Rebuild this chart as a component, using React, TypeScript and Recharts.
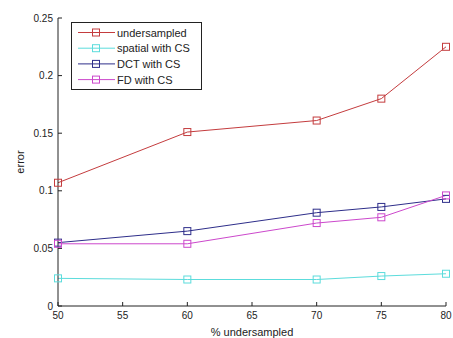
import { LineChart, Line, XAxis, YAxis, Legend, Label } from "recharts";

const xValues = [50, 60, 70, 75, 80];
const undersampled = [0.107, 0.151, 0.161, 0.18, 0.225];
const spatialCS = [0.024, 0.023, 0.023, 0.026, 0.028];
const dctCS = [0.055, 0.065, 0.081, 0.086, 0.093];
const fdCS = [0.054, 0.054, 0.072, 0.077, 0.096];

const xTicks = [50, 55, 60, 65, 70, 75, 80];
const yTicks = [0, 0.05, 0.1, 0.15, 0.2, 0.25];

const SERIES = [
  { key: "undersampled", label: "undersampled", color: "#c43c3e", values: undersampled },
  { key: "spatial", label: "spatial with CS", color: "#5cdcdc", values: spatialCS },
  { key: "dct", label: "DCT with CS", color: "#2e2e8a", values: dctCS },
  { key: "fd", label: "FD with CS", color: "#cc48cc", values: fdCS },
];

const data = xValues.map((x, i) => {
  const row: Record<string, number> = { x };
  SERIES.forEach((s) => {
    row[s.key] = s.values[i];
  });
  return row;
});

const FONT = "'Liberation Sans', Arial, sans-serif";
const TICK = { fontSize: 10, fill: "#222", fontFamily: FONT };

function squareDot(color: string) {
  return (p: any) => (
    <rect
      key={`${color}-${p.index}`}
      x={p.cx - 3.5}
      y={p.cy - 3.5}
      width={7}
      height={7}
      fill="none"
      stroke={color}
      strokeWidth={1}
    />
  );
}

function LegendBox() {
  return (
    <svg width={131} height={68} style={{ display: "block" }}>
      <rect x={0.5} y={0.5} width={130} height={67} fill="#fff" stroke="#222" />
      {SERIES.map((s, i) => {
        const y = 10.5 + i * 15.7;
        return (
          <g key={s.key}>
            <line x1={7} x2={44} y1={y} y2={y} stroke={s.color} />
            <rect x={21.5} y={y - 3.5} width={7} height={7} fill="none" stroke={s.color} />
            <text x={46} y={y + 4} fontSize={11} fontFamily={FONT} fill="#222">
              {s.label}
            </text>
          </g>
        );
      })}
    </svg>
  );
}

export default function App() {
  return (
    <div style={{ position: "absolute", left: 0, top: 0, background: "#fff" }}>
      <LineChart width={453} height={338} data={data} margin={{ top: 18, right: 7, bottom: 0, left: 0 }}>
        <XAxis
          dataKey="x"
          type="number"
          domain={[50, 80]}
          ticks={xTicks}
          tick={TICK}
          tickSize={-4}
          tickMargin={10}
          height={32}
          stroke="#222"
          tickLine={{ stroke: "#222" }}
        >
          <Label
            value="% undersampled"
            position="insideBottom"
            offset={2}
            style={{ fontSize: 11, fill: "#222", fontFamily: FONT }}
          />
        </XAxis>
        <YAxis
          type="number"
          domain={[0, 0.25]}
          ticks={yTicks}
          tick={TICK}
          tickSize={-4}
          tickMargin={9}
          width={58}
          stroke="#222"
          tickLine={{ stroke: "#222" }}
        >
          <Label
            content={(props: any) => {
              const vb = props.viewBox || { y: 18, height: 288 };
              const cy = vb.y + vb.height / 2;
              return (
                <text
                  x={20}
                  y={cy}
                  transform={`rotate(-90, 20, ${cy})`}
                  textAnchor="middle"
                  dominantBaseline="central"
                  fontSize={11}
                  fontFamily={FONT}
                  fill="#222"
                >
                  error
                </text>
              );
            }}
          />
        </YAxis>
        <Legend
          layout="horizontal"
          verticalAlign="middle"
          align="center"
          content={() => <LegendBox />}
          wrapperStyle={{ position: "absolute", left: 71, top: 22, width: 131, height: 68 }}
        />
        {SERIES.map((s) => (
          <Line
            key={s.key}
            dataKey={s.key}
            name={s.label}
            stroke={s.color}
            strokeWidth={1}
            dot={squareDot(s.color)}
            activeDot={false}
            isAnimationActive={false}
          />
        ))}
      </LineChart>
    </div>
  );
}
